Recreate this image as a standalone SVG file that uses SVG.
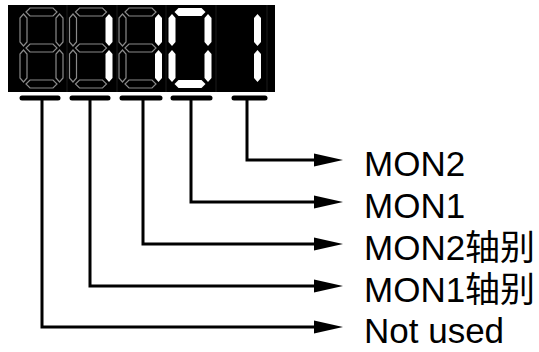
<svg xmlns="http://www.w3.org/2000/svg" width="539" height="352" viewBox="0 0 539 352">
<defs>
<style>
.off{fill:none;stroke:#8a8a8a;stroke-width:1.2}
.on{fill:#fff;stroke:none}
.bar{stroke:#000;stroke-width:5;stroke-linecap:round;fill:none}
.wire{stroke:#000;stroke-width:3;fill:none;stroke-linejoin:miter}
.head{fill:#000}
.div{stroke:#1c1c1c;stroke-width:1}
.lbl{font-family:"Liberation Sans","Noto Sans CJK SC",Arial,sans-serif;font-size:35px;fill:#000}
</style>
<polygon id="sa" points="6,4 10,0 33,0 37,4 33,8 10,8"/>
<polygon id="sg" points="6,40 10,36 33,36 37,40 33,44 10,44"/>
<polygon id="sd" points="6,76 10,72 33,72 37,76 33,80 10,80"/>
<polygon id="sb" points="39.5,6 43,10 43,34 39.5,38 36,34 36,10"/>
<polygon id="sc" points="39.5,42 43,46 43,70 39.5,74 36,70 36,46"/>
<polygon id="sf" points="3.5,6 7,10 7,34 3.5,38 0,34 0,10"/>
<polygon id="se" points="3.5,42 7,46 7,70 3.5,74 0,70 0,46"/>
<polygon id="ah" points="-29,-6.5 0,0 -29,6.5"/>
</defs>
<rect width="539" height="352" fill="#fff"/>
<g id="display">
<rect x="8" y="5" width="267" height="87" fill="#000"/>
<line class="div" x1="67" y1="5" x2="67" y2="92"/>
<line class="div" x1="117" y1="5" x2="117" y2="92"/>
<line class="div" x1="166" y1="5" x2="166" y2="92"/>
<line class="div" x1="216" y1="5" x2="216" y2="92"/>
<line class="div" x1="267" y1="5" x2="267" y2="92"/>
</g>
<g id="digit1" transform="translate(20,8)">
<use href="#sa" class="off"/><use href="#sb" class="off"/><use href="#sc" class="off"/><use href="#sd" class="off"/><use href="#se" class="off"/><use href="#sf" class="off"/><use href="#sg" class="off"/>
</g>
<g id="digit2" transform="translate(69.5,8)">
<use href="#sa" class="off"/><use href="#sd" class="off"/><use href="#se" class="off"/><use href="#sf" class="off"/><use href="#sg" class="off"/>
<use href="#sb" class="on"/><use href="#sc" class="on"/>
</g>
<g id="digit3" transform="translate(119,8)">
<use href="#sa" class="off"/><use href="#sd" class="off"/><use href="#se" class="off"/><use href="#sf" class="off"/><use href="#sg" class="off"/>
<use href="#sb" class="on"/><use href="#sc" class="on"/>
</g>
<g id="digit4" transform="translate(168.5,8)">
<use href="#sa" class="on"/><use href="#sb" class="on"/><use href="#sc" class="on"/><use href="#sd" class="on"/><use href="#se" class="on"/><use href="#sf" class="on"/>
</g>
<g id="digit5" transform="translate(218,8)">
<use href="#sb" class="on"/><use href="#sc" class="on"/>
</g>
<g id="bars">
<line class="bar" x1="22" y1="98" x2="58" y2="98"/>
<line class="bar" x1="72" y1="98" x2="108" y2="98"/>
<line class="bar" x1="122" y1="98" x2="160" y2="98"/>
<line class="bar" x1="173" y1="98" x2="210" y2="98"/>
<line class="bar" x1="234" y1="98" x2="265" y2="98"/>
</g>
<g id="connectors">
<polyline class="wire" points="247,98 247,160 318,160"/>
<polyline class="wire" points="191,98 191,202 318,202"/>
<polyline class="wire" points="143,98 143,244 318,244"/>
<polyline class="wire" points="90,98 90,286 318,286"/>
<polyline class="wire" points="42,98 42,327 318,327"/>
<use href="#ah" class="head" x="343" y="160"/>
<use href="#ah" class="head" x="343" y="202"/>
<use href="#ah" class="head" x="343" y="244"/>
<use href="#ah" class="head" x="343" y="286"/>
<use href="#ah" class="head" x="343" y="327"/>
</g>
<g id="labels">
<text class="lbl" x="364" y="176">MON2</text>
<text class="lbl" x="364" y="218">MON1</text>
<text class="lbl" x="364" y="260">MON2轴别</text>
<text class="lbl" x="364" y="302">MON1轴别</text>
<text class="lbl" x="364" y="343">Not used</text>
</g>
</svg>
